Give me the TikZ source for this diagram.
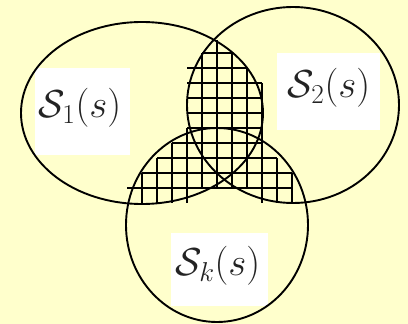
\documentclass[tikz,border=0pt]{standalone}
\usepackage{fix-cm}
\definecolor{bgyellow}{RGB}{255,255,204}
\definecolor{txtgray}{RGB}{35,35,35}
\tikzset{
  setline/.style={line width=1.9pt},
  gridline/.style={line width=1.9pt},
  labelbox/.style={fill=white, draw=none, inner sep=0pt},
  labeltext/.style={text=txtgray, inner sep=0pt, font=\fontsize{39}{46}\selectfont}
}
\begin{document}
\begin{tikzpicture}[x=1pt,y=-1pt]
  \fill[bgyellow] (0,0) rectangle (408,324);
  \useasboundingbox (0,0) rectangle (408,324);
  % white label boxes
  \fill[white] (35,68) rectangle (130,155);
  \fill[white] (277,53) rectangle (380,130);
  \fill[white] (171,233) rectangle (268,306);
  % grid (hatching)
  \foreach \j/\a/\b in {0/4/6, 1/3/7, 2/3/8, 3/3/8, 4/3/8, 5/3/8, 6/2/8, 7/1/9, 8/0/10, 9/-1/10}{
    \draw[gridline] ({142+15*\a},{53+15*\j}) -- ({142+15*\b},{53+15*\j});
  }
  \foreach \i/\a/\b in {0/8/10, 1/7/10, 2/6/10, 3/5/10, 4/0/9, 6/0/9, 7/1/9, 8/2/10, 9/7/10, 10/8/10}{
    \draw[gridline] ({142+15*\i},{53+15*\a}) -- ({142+15*\i},{53+15*\b});
  }
  \coordinate (top) at (217,40);
  \coordinate (topend) at (217,188);
  \draw[gridline] (top) -- (topend);
  % sets
  \draw[setline] (142,113) ellipse [x radius=121pt, y radius=91pt];
  \draw[setline] (293,105) ellipse [x radius=106pt, y radius=98pt];
  \draw[setline] (217,225) ellipse [x radius=91pt, y radius=97pt];
  % labels
  \node[labeltext] (s1) at (80,108) {$\mathcal{S}_1(s)$};
  \node[labeltext] (s2) at (329,88) {$\mathcal{S}_2(s)$};
  \node[labeltext] (sk) at (218,266) {$\mathcal{S}_k(s)$};
\end{tikzpicture}
\end{document}
